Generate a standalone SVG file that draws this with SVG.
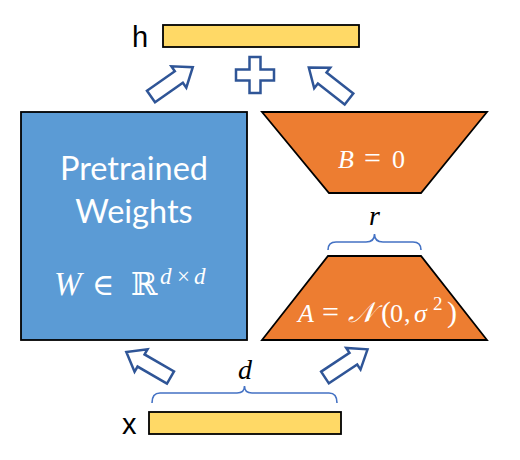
<svg xmlns="http://www.w3.org/2000/svg" width="520" height="460" viewBox="0 0 520 460">
<style>
.bar{fill:#FFD966;stroke:#000;stroke-width:1.8}
.trap{fill:#ED7D31;stroke:#000;stroke-width:1.8}
.arr{fill:#fff;stroke:#2F5597;stroke-width:2.5;stroke-linejoin:miter}
.brace{fill:none;stroke:#4472C4;stroke-width:1.6}
.lbl{font-family:"Liberation Sans",Arial,sans-serif;font-size:29px;fill:#000}
.wt{font-family:Lato,"Open Sans",sans-serif;font-size:32.5px;fill:#fff}
.m{font-family:"Liberation Serif","DejaVu Serif",serif;font-style:italic;fill:#fff}
.mk{font-family:"Liberation Serif","DejaVu Serif",serif;font-style:italic;fill:#000;font-size:28px}
.up{font-style:normal}
</style>
<defs>
<path id="arrow" d="M0,-7 L34,-7 L34,-13 L51,0 L34,13 L34,7 L0,7 Z"/>
</defs>
<g id="h">
<rect class="bar" x="163" y="25" width="196" height="22"/>
<text class="lbl" x="132" y="47">h</text>
</g>
<g id="x">
<rect class="bar" x="149" y="412" width="192" height="22"/>
<text class="lbl" x="122" y="434">x</text>
</g>
<g id="W">
<rect x="21" y="112" width="226" height="228" fill="#5B9BD5" stroke="#000" stroke-width="1.8"/>
<text class="wt" x="134" y="180" text-anchor="middle">Pretrained</text>
<text class="wt" x="134" y="223" text-anchor="middle">Weights</text>
<text class="m" y="295" font-size="33"><tspan x="54">W</tspan><tspan class="up" x="92" font-size="30">∈</tspan><tspan class="up" x="131" font-size="32" font-family="DejaVu Serif,serif">ℝ</tspan><tspan x="160" y="284" font-size="23">d</tspan><tspan class="up" x="177" y="284" font-size="23">×</tspan><tspan x="194" y="284" font-size="23">d</tspan></text>
</g>
<g id="B">
<polygon class="trap" points="262,112 487,112 421,193 329,193"/>
<text class="m" y="168" font-size="26"><tspan x="338">B</tspan><tspan class="up" x="364" font-size="30">=</tspan><tspan class="up" x="392">0</tspan></text>
</g>
<g id="A">
<polygon class="trap" points="328,256 421,256 487,340 262,340"/>
<text class="m" y="322" font-size="26"><tspan x="298">A</tspan><tspan class="up" x="322" font-size="30">=</tspan><tspan x="348" font-size="28">𝒩</tspan><tspan class="up" x="381" font-size="30">(</tspan><tspan class="up" x="390">0</tspan><tspan class="up" x="404">,</tspan><tspan x="414">σ</tspan><tspan class="up" x="433" y="310" font-size="19">2</tspan><tspan class="up" x="447" y="322" font-size="30">)</tspan></text>
</g>
<g id="connectors">
<use href="#arrow" class="arr" transform="translate(151,96.5) rotate(-35)"/>
<use href="#arrow" class="arr" transform="translate(349,99) rotate(-142)"/>
<use href="#arrow" class="arr" transform="translate(170.5,377.5) rotate(-150)"/>
<use href="#arrow" class="arr" transform="translate(325,377.5) rotate(-33.5)"/>
<path class="arr" d="M249.5,57 L260.5,57 L260.5,69.5 L274,69.5 L274,80.5 L260.5,80.5 L260.5,93 L249.5,93 L249.5,80.5 L236,80.5 L236,69.5 L249.5,69.5 Z"/>
<path class="brace" d="M328,250 Q328,242 336,242 L366,242 Q374.5,242 374.5,234 Q374.5,242 383,242 L413,242 Q421,242 421,250"/>
<path class="brace" d="M152,403 Q152,393 160,393 L237,393 Q244.5,393 244.5,386 Q244.5,393 252,393 L329,393 Q337,393 337,403"/>
<text class="mk" x="374.5" y="225" text-anchor="middle">r</text>
<text class="mk" x="245" y="379" text-anchor="middle">d</text>
</g>
</svg>
